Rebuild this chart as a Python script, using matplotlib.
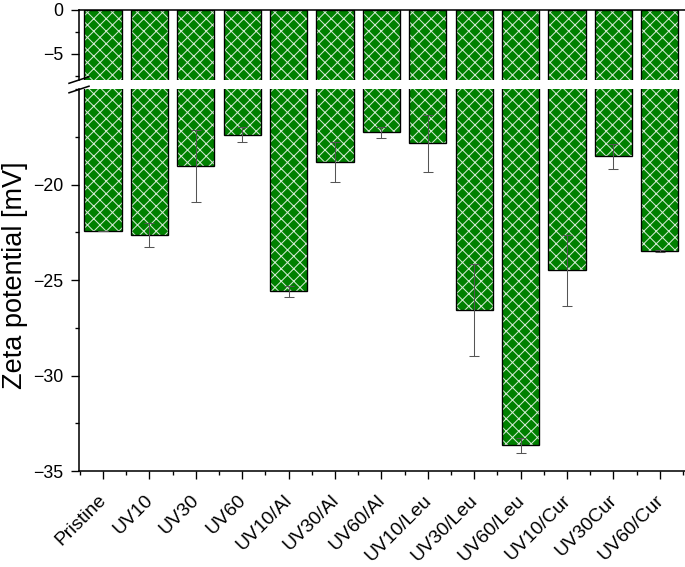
import matplotlib
matplotlib.use("Agg")
import matplotlib.pyplot as plt
import matplotlib.transforms as mtransforms
from matplotlib.lines import Line2D
from matplotlib.ticker import MultipleLocator
import numpy as np

categories = ['Pristine', 'UV10', 'UV30', 'UV60', 'UV10/Al', 'UV30/Al', 'UV60/Al',
              'UV10/Leu', 'UV30/Leu', 'UV60/Leu', 'UV10/Cur', 'UV30Cur', 'UV60/Cur']
zeta = [-22.45, -22.63, -19.04, -17.40, -25.59, -18.83, -17.27,
        -17.84, -26.56, -33.66, -24.50, -18.52, -23.46]
zeta_err = [0.0, 0.62, 1.88, 0.40, 0.28, 1.03, 0.30,
            1.50, 2.42, 0.38, 1.86, 0.66, 0.05]
y_top_ticks = [0, -5]
y_bot_ticks = [-20, -25, -30, -35]

plt.rcParams['font.family'] = ['Liberation Sans', 'DejaVu Sans']
plt.rcParams['hatch.linewidth'] = 1.0

W_PX, H_PX, DPI = 685, 567, 75
fig = plt.figure(figsize=(W_PX / DPI, H_PX / DPI), dpi=DPI)

left = 79 / W_PX
width = 1 - left
ax_top = fig.add_axes([left, 1 - 80 / H_PX, width, 70 / H_PX])
ax_bot = fig.add_axes([left, 1 - 471 / H_PX, width, 382 / H_PX])

x = np.arange(len(categories))
green = '#008000'
hatch_col = '#d2ead2'
bw = 0.8

for ax in (ax_top, ax_bot):
    ax.bar(x, zeta, width=bw, color=green, edgecolor=hatch_col, hatch='xx', linewidth=0, zorder=2)
    ax.bar(x, zeta, width=bw, fill=False, edgecolor='black', linewidth=1.3, zorder=3)
    ax.set_xlim(-0.517, 12.543)
    ax.spines['right'].set_visible(False)
    for s in ax.spines.values():
        s.set_linewidth(1.5)
    ax.tick_params(axis='y', which='major', direction='out', length=8, width=1.3,
                   labelsize=17, pad=7)
    ax.tick_params(axis='y', which='minor', direction='out', length=4, width=1.3)

ax_bot.errorbar(x, zeta, yerr=zeta_err, fmt='none', ecolor='#555555', elinewidth=1.0,
                capsize=4.5, capthick=1.0, zorder=4)

# top axis
ax_top.set_ylim(-8, 0)
ax_top.set_yticks(y_top_ticks)
ax_top.yaxis.set_minor_locator(MultipleLocator(2.5))
ax_top.spines['bottom'].set_visible(False)
ax_top.tick_params(axis='x', which='both', bottom=False, labelbottom=False)

# bottom axis
ax_bot.set_ylim(-35, -15)
ax_bot.set_yticks(y_bot_ticks)
ax_bot.yaxis.set_minor_locator(MultipleLocator(2.5))
ax_bot.spines['top'].set_visible(False)
ax_bot.set_xticks(x)
ax_bot.xaxis.set_minor_locator(MultipleLocator(0.5))
ax_bot.tick_params(axis='x', which='major', direction='out', length=8, width=1.3, pad=12)
ax_bot.tick_params(axis='x', which='minor', direction='out', length=4, width=1.3)
ax_bot.set_xticklabels(categories, rotation=45, ha='right', va='top',
                       rotation_mode='anchor', fontsize=18.5)
shift = mtransforms.ScaledTranslation(-5 / DPI, 0, fig.dpi_scale_trans)
for lbl in ax_bot.get_xticklabels():
    lbl.set_transform(lbl.get_transform() + shift)

# break marks
def px(xp, yp):
    return xp / W_PX, 1 - yp / H_PX

for yc in (80.0, 89.5):
    x0, y0 = px(69, yc + 3.3)
    x1, y1 = px(89, yc - 3.3)
    fig.add_artist(Line2D([x0, x1], [y0, y1], color='black', linewidth=1.5))

fig.text(15 / W_PX, 1 - 275 / H_PX, 'Zeta potential [mV]', rotation=90,
         ha='center', va='center', fontsize=26)

fig.savefig('out.png', dpi=DPI)
